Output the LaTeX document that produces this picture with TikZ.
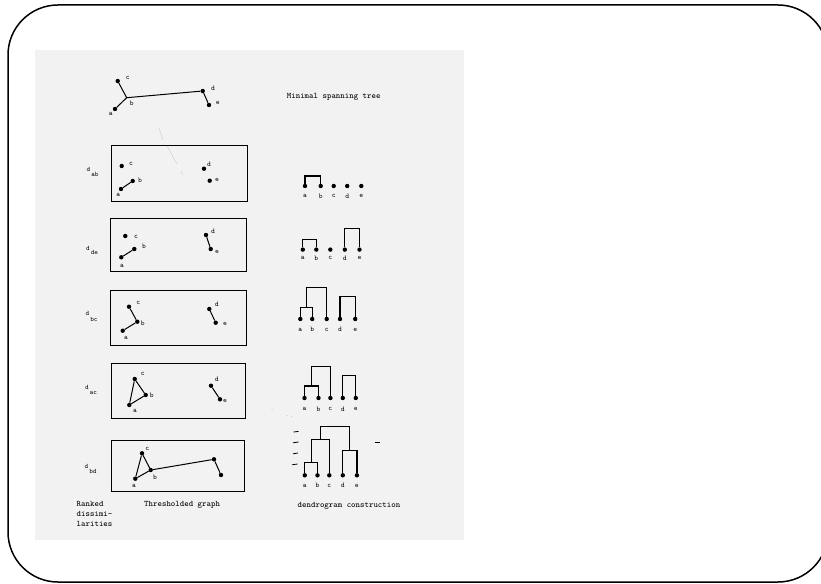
\documentclass[tikz,border=0pt]{standalone}
\usetikzlibrary{calc}
\begin{document}
\begin{tikzpicture}[x=1pt,y=-1pt,
  dot/.style={circle,fill=black,inner sep=0pt,minimum size=4.4pt},
  lbl/.style={font=\fontsize{7.2}{8}\selectfont\ttfamily,inner sep=0pt},
  captxt/.style={font=\fontsize{8.4}{10}\selectfont\ttfamily,inner sep=0pt,anchor=mid west},
  dlab/.style={font=\fontsize{6.8}{7}\selectfont\ttfamily,inner sep=0pt,anchor=base west},
  link/.style={line width=1pt},
  panelbox/.style={draw,line width=1pt},
  dend/.style={line width=1.2pt},
  tick/.style={line width=0.8pt},
  faint/.style={draw=black!20,line width=0.4pt}]
\useasboundingbox (0,0) rectangle (821,583);
\clip (0,0) rectangle (821,583);
% outer frame and scanned background
\draw[line width=1.5pt,rounded corners=50pt] (8,5) rectangle (828,582);
\fill[black!5] (35,50) rectangle (464,540);

% ---------- minimal spanning tree ----------
\node[dot] (a0) at (115,109) {};
\coordinate (b0) at (126.7,97.7);
\node[dot] (c0) at (117.7,81) {};
\node[dot] (d0) at (202.7,91) {};
\node[dot] (e0) at (209,105) {};
\draw[link] (c0) -- (b0) -- (a0);
\draw[link] (b0) -- (d0) -- (e0);
\node[lbl] (la0) at (110.7,114) {a};
\node[lbl] (lb0) at (131.7,103) {b};
\node[lbl] (lc0) at (127.7,77.7) {c};
\node[lbl] (ld0) at (213,88.3) {d};
\node[lbl] (le0) at (217.7,103.3) {e};
\node[captxt] (mst) at (286.7,96) {Minimal spanning tree};
\draw[faint] (159,128) -- (163,140);
\draw[faint] (166.5,145) -- (177,164);

% ---------- panel 1 : d_ab ----------
\node[panelbox,minimum width=136.3pt,minimum height=56.7pt,inner sep=0pt] (box1) at (179.15,173.35) {};
\node[dlab] (dl1) at (86.5,171.5) {d\kern1pt\raisebox{-5pt}{ab}};
\node[dot] (a1) at (121,189) {};
\node[dot] (b1) at (132.7,181) {};
\node[dot] (c1) at (121.7,166) {};
\node[dot] (d1) at (204,168.7) {};
\node[dot] (e1) at (209.7,180.7) {};
\draw[link] (a1) -- (b1);
\node[lbl] (la1) at (118.3,195) {a};
\node[lbl] (lb1) at (140,180) {b};
\node[lbl] (lc1) at (131,164) {c};
\node[lbl] (ld1) at (209,164) {d};
\node[lbl] (le1) at (217,180) {e};
\draw[faint] (181,171) -- (182.5,175);

% ---------- panel 2 : d_de ----------
\node[panelbox,minimum width=136pt,minimum height=52.7pt,inner sep=0pt] (box2) at (178.7,244.65) {};
\node[dlab] (dl2) at (86,250.3) {d\kern1pt\raisebox{-4pt}{de}};
\node[dot] (a2) at (121.3,257.3) {};
\node[dot] (b2) at (134.3,249) {};
\node[dot] (c2) at (125.3,236) {};
\node[dot] (d2) at (206,235) {};
\node[dot] (e2) at (210.7,249) {};
\draw[link] (a2) -- (b2);
\draw[link] (d2) -- (e2);
\node[lbl] (la2) at (122,266) {a};
\node[lbl] (lb2) at (144,246) {b};
\node[lbl] (lc2) at (136,236.7) {c};
\node[lbl] (ld2) at (213,231) {d};
\node[lbl] (le2) at (217,252.3) {e};

% ---------- panel 3 : d_bc ----------
\node[panelbox,minimum width=135.3pt,minimum height=55pt,inner sep=0pt] (box3) at (178.35,317.5) {};
\node[dlab] (dl3) at (85.5,315) {d\kern1pt\raisebox{-6pt}{bc}};
\node[dot] (a3) at (122.7,330.7) {};
\node[dot] (b3) at (137.3,321.7) {};
\node[dot] (c3) at (129,306.7) {};
\node[dot] (d3) at (209.3,309) {};
\node[dot] (e3) at (215.7,322.7) {};
\draw[link] (c3) -- (b3) -- (a3);
\draw[link] (d3) -- (e3);
\node[lbl] (la3) at (126,338.3) {a};
\node[lbl] (lb3) at (142.7,323.3) {b};
\node[lbl] (lc3) at (138.3,302.7) {c};
\node[lbl] (ld3) at (216.7,304) {d};
\node[lbl] (le3) at (225,324) {e};

% ---------- panel 4 : d_ac ----------
\node[panelbox,minimum width=133.8pt,minimum height=55.2pt,inner sep=0pt] (box4) at (178.5,390.6) {};
\node[dlab] (dl4) at (85,389) {d\kern1pt\raisebox{-5pt}{ac}};
\node[dot] (a4) at (129.3,405) {};
\node[dot] (b4) at (145.7,395) {};
\node[dot] (c4) at (134.7,379) {};
\node[dot] (d4) at (211,385.7) {};
\node[dot] (e4) at (220,399.3) {};
\draw[link] (a4) -- (c4) -- (b4) -- (a4);
\draw[link] (d4) -- (e4);
\node[lbl] (la4) at (135,410.7) {a};
\node[lbl] (lb4) at (151.7,395.7) {b};
\node[lbl] (lc4) at (142.7,374.3) {c};
\node[lbl] (ld4) at (216.7,379.3) {d};
\node[lbl] (le4) at (225,400.7) {e};

% ---------- panel 5 : d_bd ----------
\node[panelbox,minimum width=132.3pt,minimum height=51.7pt,inner sep=0pt] (box5) at (177.85,465.85) {};
\node[dlab] (dl5) at (84.5,468) {d\kern1pt\raisebox{-5pt}{bd}};
\node[dot] (a5) at (135.3,478.7) {};
\node[dot] (b5) at (150.7,470) {};
\node[dot] (c5) at (142,453.3) {};
\node[dot] (d5) at (214,459.3) {};
\node[dot] (e5) at (221,475) {};
\draw[link] (a5) -- (c5) -- (b5) -- (a5);
\draw[link] (b5) -- (d5) -- (e5);
\node[lbl] (la5) at (134,485.7) {a};
\node[lbl] (lb5) at (155,477.7) {b};
\node[lbl] (lc5) at (147.3,449.3) {c};

% ---------- dendrogram 1 ----------
\node[dot] (p1a) at (305,186) {};
\node[dot] (p1b) at (320.7,186) {};
\node[dot] (p1c) at (333.7,186) {};
\node[dot] (p1d) at (347.2,186) {};
\node[dot] (p1e) at (361.3,186) {};
\coordinate (t1ab) at (313,176);
\draw[dend] (p1a) |- (t1ab) -| (p1b);
\node[lbl] (q1a) at (305,196) {a};
\node[lbl] (q1b) at (320.7,196) {b};
\node[lbl] (q1c) at (333.7,196) {c};
\node[lbl] (q1d) at (347.2,196) {d};
\node[lbl] (q1e) at (361.3,196) {e};

% ---------- dendrogram 2 ----------
\node[dot] (p2a) at (302.8,249.6) {};
\node[dot] (p2b) at (316.3,249.6) {};
\node[dot] (p2c) at (330.3,249.6) {};
\node[dot] (p2d) at (344.8,249.6) {};
\node[dot] (p2e) at (359.5,249.6) {};
\coordinate (t2ab) at (309.5,239.5);
\coordinate (t2de) at (352,228.3);
\draw[dend] (p2a) |- (t2ab) -| (p2b);
\draw[dend] (p2d) |- (t2de) -| (p2e);
\node[lbl] (q2a) at (302.8,258) {a};
\node[lbl] (q2b) at (316.3,258) {b};
\node[lbl] (q2c) at (330.3,258) {c};
\node[lbl] (q2d) at (344.8,258) {d};
\node[lbl] (q2e) at (359.5,258) {e};

% ---------- dendrogram 3 ----------
\node[dot] (p3a) at (300.3,319) {};
\node[dot] (p3b) at (312.2,319) {};
\node[dot] (p3c) at (326.7,319) {};
\node[dot] (p3d) at (340,319) {};
\node[dot] (p3e) at (355.2,319) {};
\coordinate (t3ab) at (306.25,307.7);
\coordinate (t3abc) at (316.5,287.6);
\coordinate (t3de) at (347.6,296.7);
\draw[dend] (p3a) |- (t3ab) -| (p3b);
\draw[dend] (t3ab) |- (t3abc) -| (p3c);
\draw[dend] (p3d) |- (t3de) -| (p3e);
\node[lbl] (q3a) at (300.3,329.5) {a};
\node[lbl] (q3b) at (312.2,329.5) {b};
\node[lbl] (q3c) at (326.7,329.5) {c};
\node[lbl] (q3d) at (340,329.5) {d};
\node[lbl] (q3e) at (355.2,329.5) {e};

% ---------- dendrogram 4 ----------
\node[dot] (p4a) at (304.5,398) {};
\node[dot] (p4b) at (318.5,398) {};
\node[dot] (p4c) at (330.4,398) {};
\node[dot] (p4d) at (342.8,398) {};
\node[dot] (p4e) at (355.8,398) {};
\coordinate (t4ab) at (311.5,386);
\coordinate (t4abc) at (321,366.5);
\coordinate (t4de) at (349.3,375.6);
\draw[dend] (p4a) |- (t4ab) -| (p4b);
\draw[dend] (t4ab) |- (t4abc) -| (p4c);
\draw[dend] (p4d) |- (t4de) -| (p4e);
\node[lbl] (q4a) at (304.5,409) {a};
\node[lbl] (q4b) at (318.5,409) {b};
\node[lbl] (q4c) at (330.4,409) {c};
\node[lbl] (q4d) at (342.8,409) {d};
\node[lbl] (q4e) at (355.8,409) {e};

% ---------- dendrogram 5 ----------
\node[dot] (p5a) at (304.8,475.3) {};
\node[dot] (p5b) at (317.5,475.3) {};
\node[dot] (p5c) at (329.3,475.3) {};
\node[dot] (p5d) at (342.8,475.3) {};
\node[dot] (p5e) at (356.9,475.3) {};
\coordinate (t5ab) at (311.15,462.8);
\coordinate (t5abc) at (320.2,439.7);
\coordinate (t5de) at (349.85,450.8);
\coordinate (t5root) at (335,426.3);
\draw[dend] (p5a) |- (t5ab) -| (p5b);
\draw[dend] (t5ab) |- (t5abc) -| (p5c);
\draw[dend] (p5d) |- (t5de) -| (p5e);
\draw[dend] (t5abc) |- (t5root) -| (t5de);
\node[lbl] (q5a) at (304.8,485.5) {a};
\node[lbl] (q5b) at (317.5,485.5) {b};
\node[lbl] (q5c) at (329.3,485.5) {c};
\node[lbl] (q5d) at (342.8,485.5) {d};
\node[lbl] (q5e) at (356.9,485.5) {e};
% level ticks
\draw[tick] (293.5,432) -- (298.5,431.4);
\draw[tick] (293,442.8) -- (298.5,442);
\draw[tick] (293,453.8) -- (298,453);
\draw[tick] (292,464.8) -- (297.5,464);
\draw[tick] (374.5,442.7) -- (380,442.7);
\fill[black!30] (272,409) circle (0.5pt) (287,415.6) circle (0.5pt) (291.7,416.7) circle (0.5pt);

% ---------- captions ----------
\node[captxt] (rk1) at (76.5,504) {Ranked};
\node[captxt] (rk2) at (76.5,514) {dissimi-};
\node[captxt] (rk3) at (76.5,524) {larities};
\node[captxt] (thr) at (144,504.8) {Thresholded graph};
\node[captxt] (den) at (297.5,505.6) {dendrogram construction};
\end{tikzpicture}
\end{document}
